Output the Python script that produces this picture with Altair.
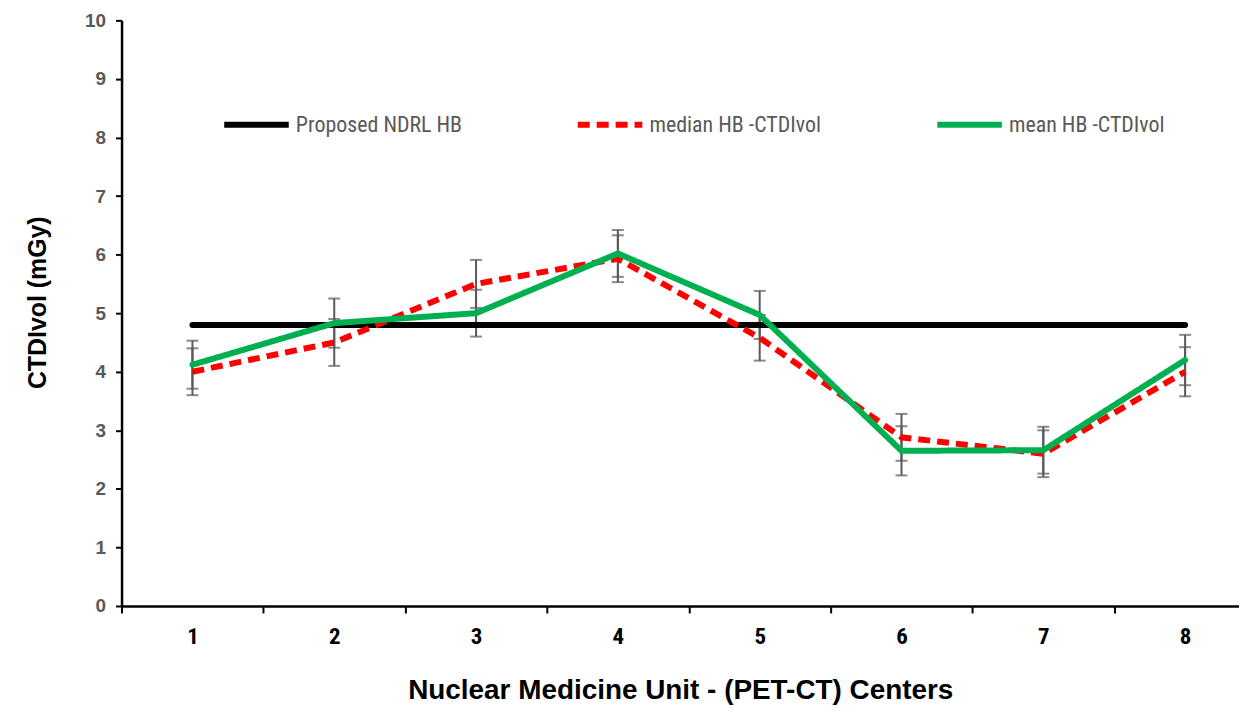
import altair as alt
import pandas as pd

# ---- data ----
centers = [1, 2, 3, 4, 5, 6, 7, 8]
ndrl_hb = [4.8, 4.8, 4.8, 4.8, 4.8, 4.8, 4.8, 4.8]
median_hb = [4.0, 4.5, 5.5, 5.93, 4.58, 2.88, 2.6, 4.0]
mean_hb = [4.12, 4.83, 5.0, 6.02, 4.97, 2.65, 2.66, 4.2]
median_err = [0.4, 0.4, 0.41, 0.4, 0.39, 0.4, 0.4, 0.42]
mean_err = [0.41, 0.42, 0.4, 0.4, 0.41, 0.42, 0.4, 0.43]

series_names = ["Proposed NDRL HB", "median HB -CTDIvol", "mean HB -CTDIvol"]
series_colors = ["#000000", "#FF0000", "#00B050"]
series_dash = [[1, 0], [12, 7], [1, 0]]
x_tick_values = [0.5, 1, 1.5, 2, 2.5, 3, 3.5, 4, 4.5, 5, 5.5, 6, 6.5, 7, 7.5, 8]
y_tick_values = [0, 1, 2, 3, 4, 5, 6, 7, 8, 9, 10]

rows = []
for name, vals in zip(series_names, [ndrl_hb, median_hb, mean_hb]):
    for c, v in zip(centers, vals):
        rows.append({"center": c, "value": v, "series": name})
lines_df = pd.DataFrame(rows)

err_rows = []
for vals, errs in [(mean_hb, mean_err), (median_hb, median_err)]:
    for c, v, e in zip(centers, vals, errs):
        err_rows.append({"center": c, "low": v - e, "high": v + e})
err_df = pd.DataFrame(err_rows)

x_scale = alt.Scale(domain=[0.5, 8.38], nice=False, zero=False)
y_scale = alt.Scale(domain=[0, 10], nice=False)

x_axis = alt.Axis(
    values=x_tick_values,
    title="Nuclear Medicine Unit - (PET-CT) Centers",
    labelExpr="datum.value % 1 === 0 ? format(datum.value, 'd') : ''",
    tickOpacity={"condition": {"test": "datum.value % 1 !== 0", "value": 1}, "value": 0},
    grid=False,
    domainColor="#000000",
    domainWidth=2.5,
    tickColor="#000000",
    tickWidth=2,
    tickSize=7,
    labelPadding=13,
    labelFont="Liberation Sans Narrow, Roboto Condensed, Liberation Sans",
    labelFontSize=23,
    labelFontWeight="bold",
    labelColor="#000000",
    titleFont="Liberation Sans, Arial",
    titleFontSize=28,
    titleFontWeight="bold",
    titleColor="#000000",
    titlePadding=28,
)
y_axis = alt.Axis(
    values=y_tick_values,
    format="d",
    title="CTDIvol (mGy)",
    grid=False,
    domainColor="#000000",
    domainWidth=2.5,
    tickColor="#000000",
    tickWidth=2,
    tickSize=6,
    labelPadding=10,
    labelFont="Liberation Sans, Arial",
    labelFontSize=19,
    labelFontWeight="bold",
    labelColor="#595959",
    titleFont="Liberation Sans, Arial",
    titleFontSize=25,
    titleFontWeight="bold",
    titleColor="#000000",
    titlePadding=34,
    titleY=283,
)

color_enc = alt.Color(
    "series:N",
    scale=alt.Scale(domain=series_names, range=series_colors),
    legend=alt.Legend(
        title=None,
        orient="none",
        direction="horizontal",
        legendX=100,
        legendY=69,
        symbolType="stroke",
        symbolSize=4200,
        symbolStrokeWidth=6,
        labelFont="Liberation Sans Narrow, Roboto Condensed, Liberation Sans",
        labelFontSize=22,
        labelColor="#595959",
        labelOffset=4,
        columnPadding=104,
        padding=0,
        labelLimit=400,
    ),
)
dash_enc = alt.StrokeDash(
    "series:N",
    scale=alt.Scale(domain=series_names, range=series_dash),
)

base_err = alt.Chart(err_df)
err_rule = base_err.mark_rule(color="#595959", strokeWidth=2).encode(
    x=alt.X("center:Q", scale=x_scale, axis=x_axis),
    y=alt.Y("low:Q", scale=y_scale, axis=y_axis),
    y2="high:Q",
)
err_low = base_err.mark_tick(color="#595959", orient="horizontal", size=12, thickness=2).encode(
    x=alt.X("center:Q", scale=x_scale),
    y=alt.Y("low:Q", scale=y_scale),
)
err_high = base_err.mark_tick(color="#595959", orient="horizontal", size=12, thickness=2).encode(
    x=alt.X("center:Q", scale=x_scale),
    y=alt.Y("high:Q", scale=y_scale),
)

line_layers = []
for name in series_names:
    line_layers.append(
        alt.Chart(lines_df[lines_df["series"] == name])
        .mark_line(strokeWidth=6, strokeCap="round" if name != "median HB -CTDIvol" else "butt")
        .encode(
            x=alt.X("center:Q", scale=x_scale),
            y=alt.Y("value:Q", scale=y_scale),
            color=color_enc,
            strokeDash=dash_enc,
        )
    )

chart = (
    alt.layer(err_rule, err_low, err_high, *line_layers)
    .properties(
        width=1122,
        height=588,
        autosize=alt.AutoSizeParams(type="none"),
        padding={"left": 114, "top": 11, "right": 0, "bottom": 100},
    )
    .configure_view(stroke=None)
)

chart.save("out.html", embed_options={"renderer": "svg", "actions": False})
